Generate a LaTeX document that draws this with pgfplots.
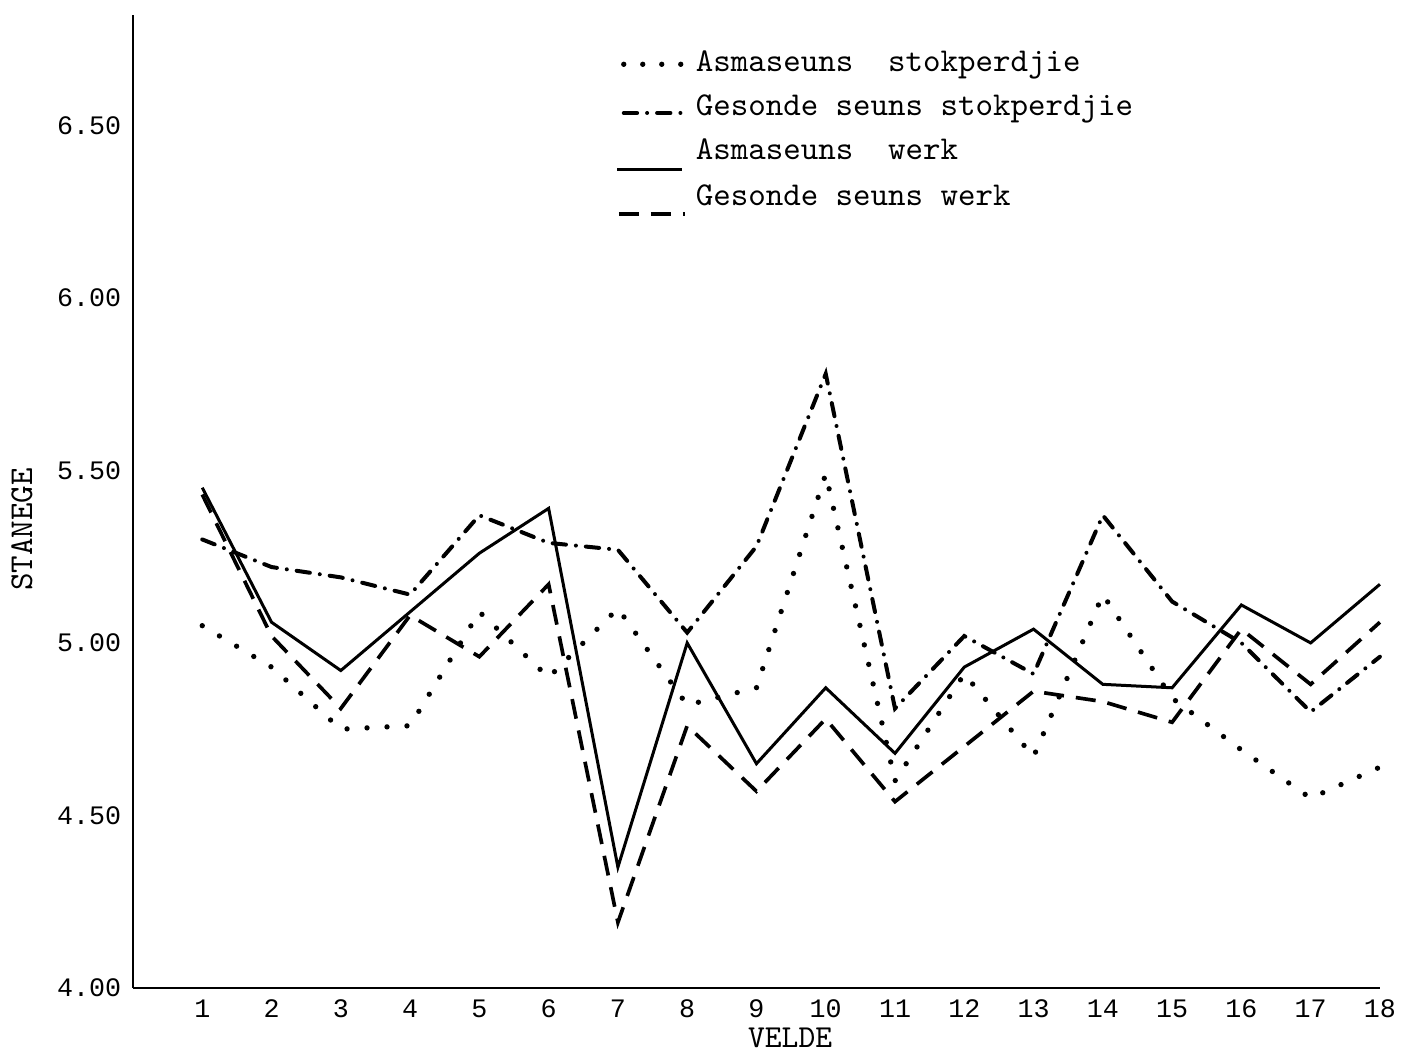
\documentclass[border=0pt]{standalone}
\usepackage{pgfplots}
\usepackage{pgfplotstable}
\pgfplotsset{compat=1.18}
\usepackage{fontspec}
\newfontfamily\tickfont{Liberation Mono}

\pgfplotstableread{
x  as    gs    aw    gw
1  5.05  5.30  5.45  5.43
2  4.93  5.22  5.06  5.02
3  4.75  5.19  4.92  4.81
4  4.76  5.14  5.09  5.08
5  5.09  5.37  5.26  4.96
6  4.90  5.29  5.39  5.17
7  5.10  5.27  4.35  4.19
8  4.82  5.03  5.00  4.76
9  4.87  5.28  4.65  4.57
10 5.49  5.78  4.87  4.78
11 4.60  4.81  4.68  4.54
12 4.91  5.02  4.93  4.70
13 4.67  4.91  5.04  4.86
14 5.14  5.37  4.88  4.83
15 4.84  5.12  4.87  4.77
16 4.69  5.00  5.11  5.04
17 4.55  4.80  5.00  4.88
18 4.64  4.96  5.17  5.06
}\data

\tikzset{
  dotsty/.style={line width=1.6pt, line cap=round, dash pattern=on 0pt off 6pt},
  dashdotsty/.style={line width=1.2pt, line cap=round, dash pattern=on 4pt off 3pt on 0pt off 3pt},
  solidsty/.style={line width=0.9pt},
  dashsty/.style={line width=1.1pt, dash pattern=on 6pt off 3.6pt},
}
\pgfplotsset{
  legA/.style={legend image code/.code={\draw[##1, dash pattern=on 0pt off 5.7pt] (2pt,0pt) -- (19.5pt,0pt);}},
  legB/.style={legend image code/.code={\draw[##1] (2pt,-1.5pt) -- (21pt,-1.5pt);}},
  legC/.style={legend image code/.code={\draw[##1] (0pt,-5.5pt) -- (19.5pt,-5.5pt);}},
  legD/.style={legend image code/.code={\draw[##1] (0.5pt,-5pt) -- (20.5pt,-5pt);}},
}

\begin{document}
\begin{tikzpicture}
\begin{axis}[
  name=ax,
  scale only axis,
  width=374.1pt, height=291.9pt,
  xmin=0, xmax=18, ymin=4, ymax=6.82,
  axis x line*=bottom, axis y line*=left,
  axis line style={line width=0.8pt, black},
  xtick={1,...,18},
  ytick={4,4.5,5,5.5,6,6.5},
  yticklabel style={/pgf/number format/.cd, fixed, fixed zerofill, precision=2},
  /pgf/number format/assume math mode=true,
  major tick length=0pt,
  tick label style={font=\tickfont\fontsize{8}{9}\selectfont, black},
  xlabel={VELDE},
  ylabel={STANEGE},
  xlabel style={at={(axis description cs:0.527,-0.0508)}, anchor=center, font=\ttfamily\fontsize{9.6}{10}\selectfont},
  ylabel style={at={(axis description cs:-0.089,0.471)}, anchor=center, font=\ttfamily\fontsize{10}{10}\selectfont},
  legend style={at={(axis description cs:0.3865,0.968)}, anchor=north west,
    draw=none, fill=none, inner sep=0pt, row sep=2.6pt,
    font=\ttfamily\fontsize{10}{11}\selectfont,
    nodes={text height=6.5pt, text depth=2pt, inner ysep=1pt, inner xsep=2pt},
    /tikz/every even column/.append style={column sep=6.5pt}},
  legend cell align=left,
  clip=false,
]
\addplot[dotsty, legA] table[x=x,y=as] {\data};
\addlegendentry{Asmaseuns\ \ stokperdjie}
\addplot[dashdotsty, legB] table[x=x,y=gs] {\data};
\addlegendentry{Gesonde seuns stokperdjie}
\addplot[solidsty, legC] table[x=x,y=aw] {\data};
\addlegendentry{Asmaseuns\ \ werk}
\addplot[dashsty, legD] table[x=x,y=gw] {\data};
\addlegendentry{Gesonde seuns werk}
\end{axis}
\path (ax.south west) ++(-39.9pt,-18.3pt) rectangle ++(422.1pt,314.7pt);
\end{tikzpicture}
\end{document}
